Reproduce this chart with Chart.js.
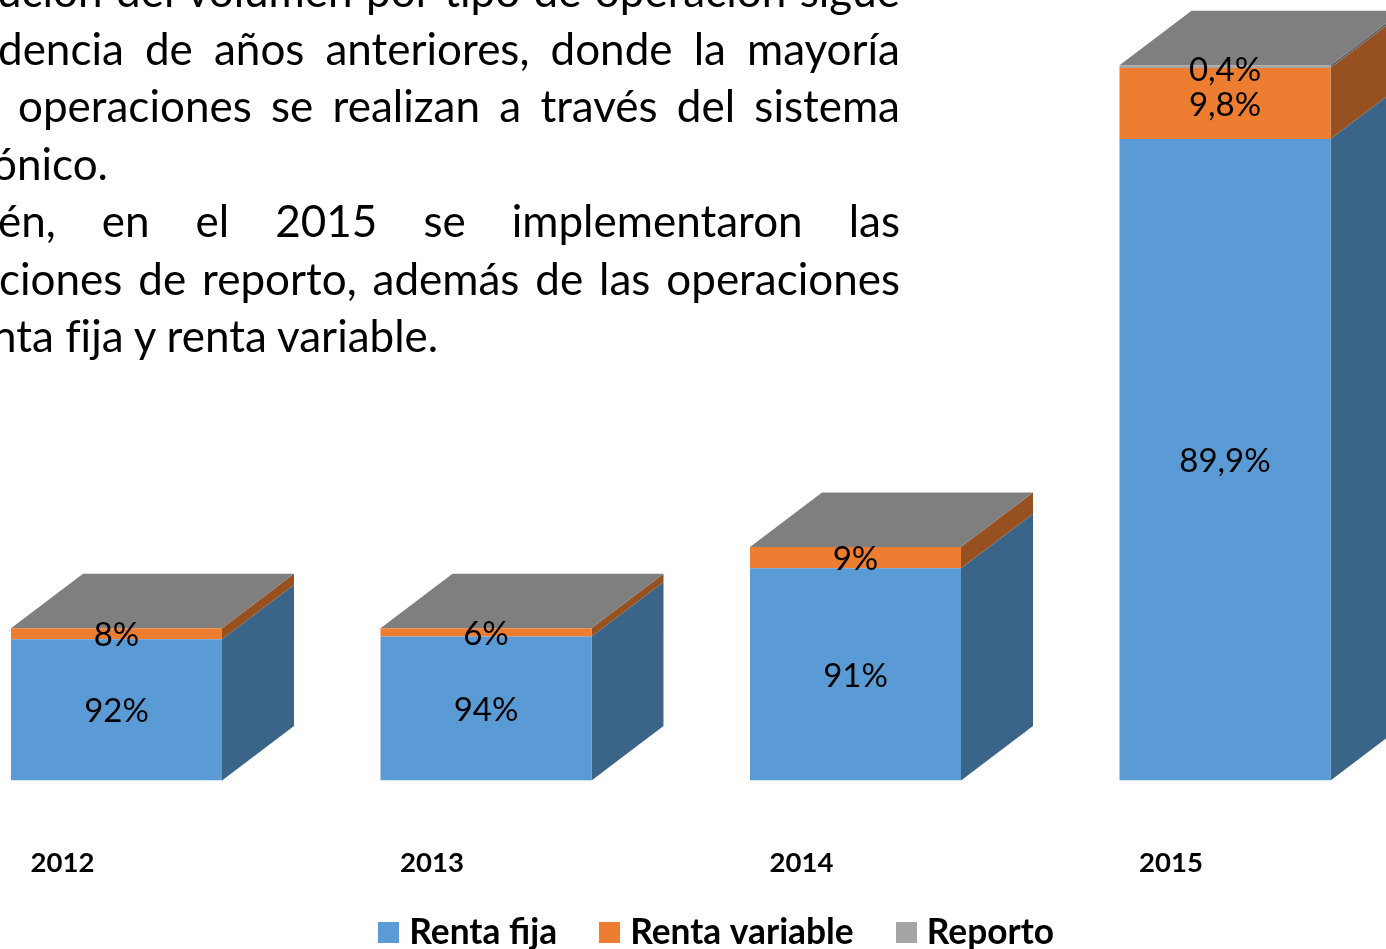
<!DOCTYPE html>
<html lang="es">
<head>
<meta charset="utf-8">
<title>Volumen por tipo de operación</title>
<script src="https://cdn.jsdelivr.net/npm/chart.js@4"></script>
<style>
html,body{margin:0;padding:0;width:1386px;height:949px;overflow:hidden;background:#fff}
#wrap{position:absolute;left:-80px;top:0;width:1590px;height:949px}
canvas{display:block}
.ln{position:absolute;white-space:nowrap;font:44px/57.5px Lato,sans-serif;font-variant-ligatures:none;color:#000;right:486px}
.ln.j{white-space:normal;text-align:justify;text-align-last:justify;height:57.5px;overflow:hidden}
</style>
</head>
<body>
<div id="wrap"><canvas id="c" width="1590" height="949"></canvas></div>
<div id="txt"></div>
<script>
const categories = ['2012', '2013', '2014', '2015'];
const rentaFija = [19.9, 20.3, 29.9, 90.4];
const rentaVariable = [1.55, 1.15, 3.0, 10.0];
const reporto = [0, 0, 0, 0.4];
const rentaFijaLabels = ['92%', '94%', '91%', '89,9%'];
const rentaVariableLabels = ['8%', '6%', '9%', '9,8%'];
const reportoLabels = ['', '', '', '0,4%'];
const paragraphLines = [
  'ución del volumen por tipo de operación sigue',
  'dencia de años anteriores, donde la mayoría',
  'operaciones se realizan a través del sistema',
  'ónico.',
  'én, en el 2015 se implementaron las',
  'ciones de reporto, además de las operaciones',
  'nta fija y renta variable.'
];
const lineLeft = [-3, -2, 18, -8, -2, -1, -8];
const lineJustified = [true, true, true, false, true, true, false];

const txt = document.getElementById('txt');
paragraphLines.forEach((t, i) => {
  const d = document.createElement('div');
  d.className = 'ln' + (lineJustified[i] ? ' j' : '');
  d.textContent = t;
  d.style.left = lineLeft[i] + 'px';
  d.style.top = (-38 + i * 57.5) + 'px';
  if (!lineJustified[i]) d.style.right = 'auto';
  txt.appendChild(d);
});

const DX = 72, DY = -54.5;
const sideColors = ['#3a6589', '#97501f', '#636363'];
const TOP_COLOR = '#7f7f7f';
const seriesLabels = [rentaFijaLabels, rentaVariableLabels, reportoLabels];
const LEGEND_LEFT = 416.2, LEGEND_TOP = 865;
const CHART_BOTTOM = 780.5;

const box3d = {
  id: 'box3d',
  beforeDatasetsDraw(chart) {
    const ctx = chart.ctx;
    ctx.save();
    const metas = chart.getSortedVisibleDatasetMetas();
    metas.forEach((m, s) => {
      m.data.forEach(b => {
        const r = b.x + b.width / 2;
        if (Math.abs(b.base - b.y) < 0.01) return;
        ctx.fillStyle = sideColors[s];
        ctx.beginPath();
        ctx.moveTo(r, b.y);
        ctx.lineTo(r + DX, b.y + DY);
        ctx.lineTo(r + DX, b.base + DY);
        ctx.lineTo(r, b.base);
        ctx.closePath();
        ctx.fill();
      });
    });
    metas[metas.length - 1].data.forEach(b => {
      const l = b.x - b.width / 2, r = b.x + b.width / 2;
      ctx.fillStyle = TOP_COLOR;
      ctx.beginPath();
      ctx.moveTo(l, b.y);
      ctx.lineTo(l + DX, b.y + DY);
      ctx.lineTo(r + DX, b.y + DY);
      ctx.lineTo(r, b.y);
      ctx.closePath();
      ctx.fill();
    });
    ctx.restore();
  },
  afterDatasetsDraw(chart) {
    const ctx = chart.ctx;
    ctx.save();
    ctx.font = '33px Lato, sans-serif';
    ctx.fillStyle = '#000';
    ctx.textAlign = 'center';
    ctx.textBaseline = 'middle';
    chart.getSortedVisibleDatasetMetas().forEach((m, s) => {
      m.data.forEach((b, i) => {
        const t = seriesLabels[s][i];
        if (t) ctx.fillText(t, b.x, (b.y + b.base) / 2 + (s === 2 ? 4 : 1.5));
      });
    });
    ctx.restore();
  },
  afterLayout(chart) {
    const l = chart.legend;
    const w = l.right - l.left, h = l.bottom - l.top;
    l.left = LEGEND_LEFT; l.right = LEGEND_LEFT + w;
    l.top = LEGEND_TOP; l.bottom = LEGEND_TOP + h;
  }
};

function swatch(color) {
  const c = document.createElement('canvas');
  c.width = 21; c.height = 21;
  const g = c.getContext('2d');
  g.fillStyle = color;
  g.fillRect(0, 0, 21, 21);
  return c;
}
const frontColors = ['#5b9bd5', '#ed7d31', '#a5a5a5'];
const swatches = frontColors.map(swatch);

const chart = new Chart(document.getElementById('c'), {
  type: 'bar',
  data: {
    labels: categories,
    datasets: [
      { label: 'Renta fija', data: rentaFija, backgroundColor: frontColors[0] },
      { label: 'Renta variable', data: rentaVariable, backgroundColor: frontColors[1] },
      { label: 'Reporto', data: reporto, backgroundColor: frontColors[2] }
    ]
  },
  options: {
    responsive: false,
    animation: false,
    layout: { padding: { left: 11.75, right: 100.25, top: 0, bottom: 0 } },
    datasets: { bar: { categoryPercentage: 1, barPercentage: 0.571, borderWidth: 0 } },
    plugins: {
      tooltip: { enabled: false },
      title: { display: false },
      legend: {
        position: 'bottom',
        align: 'start',
        labels: {
          usePointStyle: true,
          boxWidth: 5.5,
          boxHeight: 21,
          padding: 50,
          color: '#000',
          font: { family: 'Lato, sans-serif', weight: 'bold', size: 35.3 },
          generateLabels(ch) {
            return ch.data.datasets.map((d, i) => ({
              text: d.label,
              fillStyle: frontColors[i],
              strokeStyle: frontColors[i],
              lineWidth: 0,
              pointStyle: swatches[i],
              datasetIndex: i,
              hidden: false
            }));
          }
        }
      }
    },
    scales: {
      x: {
        stacked: true,
        grid: { display: false, drawTicks: false },
        border: { display: false },
        ticks: {
          autoSkip: false, maxRotation: 0, minRotation: 0,
          padding: 66.5, labelOffset: -54, color: '#000',
          font: { family: 'Lato, sans-serif', weight: 'bold', size: 27.5 }
        }
      },
      y: { stacked: true, display: false, min: 0, max: 110 }
    }
  },
  plugins: [box3d]
});
chart.options.layout.padding.bottom = Math.max(0, chart.options.layout.padding.bottom + chart.chartArea.bottom - CHART_BOTTOM);
chart.update('none');
chart.options.layout.padding.bottom += chart.chartArea.bottom - CHART_BOTTOM;
chart.update('none');
</script>
</body>
</html>
